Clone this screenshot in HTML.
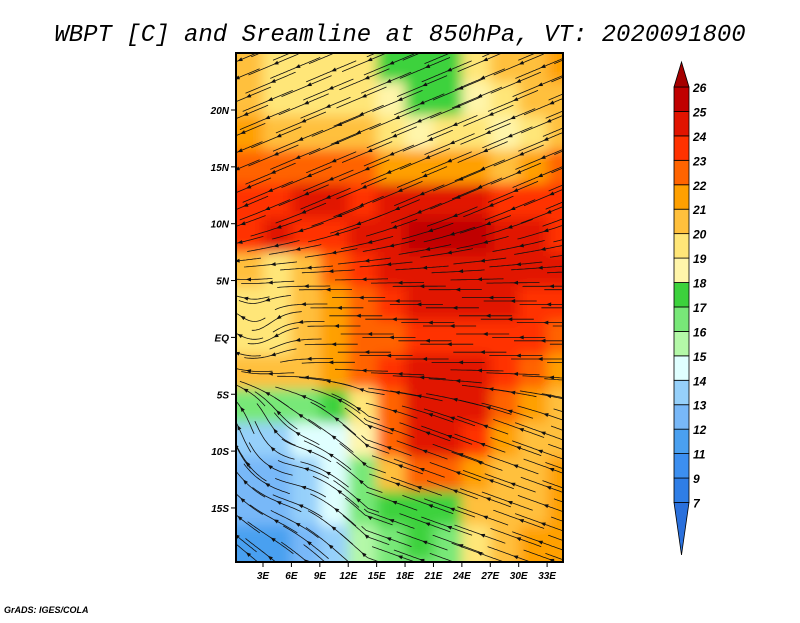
<!DOCTYPE html>
<html><head><meta charset="utf-8"><style>
body{margin:0;background:#fff;}
svg text{font-family:"Liberation Sans",sans-serif;font-style:italic;font-weight:bold;}
</style></head><body>
<svg id="chart" width="800" height="618" viewBox="0 0 800 618">
<defs>
<clipPath id="plotclip"><rect x="236" y="53" width="327" height="509"/></clipPath>
<filter id="blur" x="-10%" y="-10%" width="120%" height="120%"><feGaussianBlur stdDeviation="6"/></filter>
</defs>
<text x="400" y="41" text-anchor="middle" font-size="24" style="font-family:'Liberation Mono',monospace;font-weight:normal">WBPT [C] and Sreamline at 850hPa, VT: 2020091800</text>
<g id="field" clip-path="url(#plotclip)"><g id="cells" filter="url(#blur)"></g></g>
<g id="stream" clip-path="url(#plotclip)"></g>
<rect x="236" y="53" width="327" height="509" fill="none" stroke="#000" stroke-width="2"/>
<g id="axes"></g>
<g id="cbar"></g>
<text x="4" y="613" font-size="9">GrADS: IGES/COLA</text>
</svg>
<script>
const lons=[1.5,4.5,7.5,10.5,13.5,16.5,19.5,22.5,25.5,28.5,31.5,34.5];
const lats=[24,21,18,15,12,9,6,3,0,-3,-6,-9,-12,-15,-18,-21];
const wbpt=[
[20,19,19,19,19,17,17,17,19,20,20,21],
[20,19,19,19,19,18,17,17,18,19,20,20],
[21,20,20,20,20,19,18,19,19,18,19,20],
[22,22,22,22,22,21,21,21,21,20,21,22],
[23,23,24,24,23,24,24,24,24,23,23,23],
[23,24,23,23,24,24,25,25,25,24,24,23],
[20,19,20,22,23,24,24,24,24,24,24,24],
[19,19,20,21,22,23,24,24,24,24,23,23],
[19,19,20,21,22,22,23,23,23,23,23,22],
[20,20,20,21,22,23,24,24,24,23,22,21],
[16,16,16,17,19,22,24,24,24,22,21,20],
[13,13,14,14,18,22,24,24,23,21,20,20],
[12,12,13,14,16,20,22,22,21,20,20,21],
[12,12,13,14,16,17,17,17,20,20,20,21],
[11,11,12,13,15,16,17,16,19,20,21,21],
[11,11,12,13,15,16,16,16,19,20,21,21]];
const levels=[7,9,11,12,13,14,15,16,17,18,19,20,21,22,23,24,25,26];
const colors=["#2a70dc","#2f7ee6","#3c8ff0","#4aa0f0","#78b8f8","#96d0fa","#e0ffff","#b4f8a8","#78e878","#3cd23c","#fff5aa","#ffe678","#ffc03c","#ffa000","#ff6400","#ff3200","#e11400","#c00000","#a50000"];
const xLabels=["3E","6E","9E","12E","15E","18E","21E","24E","27E","30E","33E"];
const xTicks=[3,6,9,12,15,18,21,24,27,30,33];
const yLabels=["20N","15N","10N","5N","EQ","5S","10S","15S"];
const yTicks=[20,15,10,5,0,-5,-10,-15];
const NS="http://www.w3.org/2000/svg";
const X=lon=>263+(lon-3)*9.47;
const Y=lat=>110+(20-lat)*11.37;
function col(v){let i=0;while(i<levels.length&&v>=levels[i])i++;return colors[i];}
const cells=document.getElementById('cells');
for(let r=0;r<lats.length;r++)for(let c=0;c<lons.length;c++){
  const e=document.createElementNS(NS,'rect');
  const x0=c==0?200:(X(lons[c-1])+X(lons[c]))/2, x1=c==lons.length-1?600:(X(lons[c])+X(lons[c+1]))/2;
  const y0=r==0?20:(Y(lats[r-1])+Y(lats[r]))/2, y1=r==lats.length-1?600:(Y(lats[r])+Y(lats[r+1]))/2;
  e.setAttribute('x',x0);e.setAttribute('y',y0);e.setAttribute('width',x1-x0+1);e.setAttribute('height',y1-y0+1);
  e.setAttribute('fill',col(wbpt[r][c]));
  
  
  cells.appendChild(e);
}
function sm(a,b,t){t=Math.max(0,Math.min(1,(t-a)/(b-a)));return t*t*(3-2*t);}
function wind(lon,lat){
  let u=-1;
  let vn=-0.35, vs=(lon<14?0.75:0.3);
  let v=vn*sm(4,12,lat)+vs*(1-sm(-8,-2,lat));
  let dx=lon-3,dy=lat+11,d2=dx*dx+dy*dy,g=Math.exp(-d2/25);u+=dy*0.25*g;v+=-dx*0.25*g;
  dx=lon-2;dy=lat-0.5;d2=dx*dx+dy*dy;g=Math.exp(-d2/8);u+=dy*0.4*g;v+=-dx*0.4*g;
  return [u,v];
}
const st=document.getElementById('stream');
function trace(p,dir,n){const pts=[];for(let k=0;k<n;k++){const [u,v]=wind(p[0],p[1]);const m=Math.hypot(u,v)||1;p=[p[0]+dir*u/m*0.2,p[1]+dir*v/m*0.2];pts.push([X(p[0]),Y(p[1])]);}return pts;}
let sc=0;
for(let la=25;la>=-21;la-=1.6)for(let lo=0;lo<=36;lo+=3.2){
  sc++;
  const s=[lo+((sc*7)%5)*0.3,la+((sc*3)%4)*0.3];
  const back=trace(s,-1,14).reverse(),fwd=trace(s,1,14);
  const pts=back.concat([[X(s[0]),Y(s[1])]],fwd);
  const e=document.createElementNS(NS,'polyline');
  e.setAttribute('points',pts.map(q=>q[0].toFixed(1)+','+q[1].toFixed(1)).join(' '));
  e.setAttribute('fill','none');e.setAttribute('stroke','#111');e.setAttribute('stroke-width','0.8');
  
  
  st.appendChild(e);
  const a=pts[14],b=pts[16];const ang=Math.atan2(b[1]-a[1],b[0]-a[0])*180/Math.PI;
  const h=document.createElementNS(NS,'path');h.setAttribute('d','M0,0 L-5,-2 L-5,2 Z');h.setAttribute('transform',`translate(${a[0]},${a[1]}) rotate(${ang})`);h.setAttribute('fill','#111');
  
  
  st.appendChild(h);
}
const ax=document.getElementById('axes');
xTicks.forEach((t,i)=>{const l=document.createElementNS(NS,'line');l.setAttribute('x1',X(t));l.setAttribute('x2',X(t));l.setAttribute('y1',562);l.setAttribute('y2',567);l.setAttribute('stroke','#000');ax.appendChild(l);
 const tx=document.createElementNS(NS,'text');tx.setAttribute('x',X(t));tx.setAttribute('y',579);tx.setAttribute('text-anchor','middle');tx.setAttribute('font-size','10');tx.textContent=xLabels[i];
 
 
 ax.appendChild(tx);});
yTicks.forEach((t,i)=>{const l=document.createElementNS(NS,'line');l.setAttribute('x1',231);l.setAttribute('x2',236);l.setAttribute('y1',Y(t));l.setAttribute('y2',Y(t));l.setAttribute('stroke','#000');ax.appendChild(l);
 const tx=document.createElementNS(NS,'text');tx.setAttribute('x',229);tx.setAttribute('y',Y(t)+4);tx.setAttribute('text-anchor','end');tx.setAttribute('font-size','10');tx.textContent=yLabels[i];
 
 
 ax.appendChild(tx);});
const cb=document.getElementById('cbar');const step=24.44,cbTop=87,bx=674,bw=15;
const n=levels.length;
for(let i=0;i<n-1;i++){const y=cbTop+(n-2-i)*step;const r=document.createElementNS(NS,'rect');r.setAttribute('x',bx);r.setAttribute('y',y);r.setAttribute('width',bw);r.setAttribute('height',step);r.setAttribute('fill',colors[i+1]);r.setAttribute('stroke','#000');r.setAttribute('stroke-width','0.8');
 
 
 cb.appendChild(r);}
const bot=cbTop+(n-1)*step;
const t1=document.createElementNS(NS,'path');t1.setAttribute('d',`M${bx},${cbTop} L${bx+bw/2},62 L${bx+bw},${cbTop} Z`);t1.setAttribute('fill',colors[n]);t1.setAttribute('stroke','#000');t1.setAttribute('stroke-width','0.8');cb.appendChild(t1);
const t2=document.createElementNS(NS,'path');t2.setAttribute('d',`M${bx},${bot} L${bx+bw/2},555 L${bx+bw},${bot} Z`);t2.setAttribute('fill',colors[0]);t2.setAttribute('stroke','#000');t2.setAttribute('stroke-width','0.8');cb.appendChild(t2);
levels.forEach((lv,i)=>{const tx=document.createElementNS(NS,'text');tx.setAttribute('x',693);tx.setAttribute('y',cbTop+(n-1-i)*step+5);tx.setAttribute('font-size','12');tx.textContent=lv;
 
 
 cb.appendChild(tx);});
</script>
</body></html>
